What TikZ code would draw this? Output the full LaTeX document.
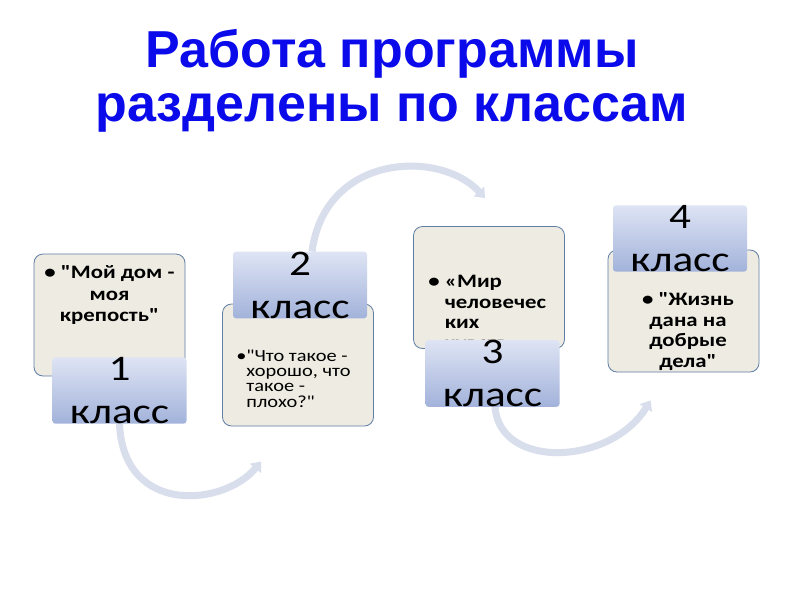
\documentclass[tikz,border=0pt]{standalone}
\usepackage{fontspec}
\setmainfont{Carlito}[FakeStretch=1.2, Ligatures=TeXOff]
\newfontfamily\titlefont{Liberation Sans}
\definecolor{titleblue}{RGB}{10,10,235}
\definecolor{boxfill}{RGB}{238,236,226}
\definecolor{boxline}{RGB}{95,125,165}
\definecolor{tabtop}{RGB}{222,228,244}
\definecolor{tabbottom}{RGB}{162,178,218}
\definecolor{arcgray}{RGB}{216,222,236}
\usetikzlibrary{calc, arrows.meta, backgrounds}

\begin{document}
\begin{tikzpicture}[x=1pt, y=-1pt,
  stage/.style={draw=boxline, line width=0.8pt, fill=boxfill, rounded corners=9pt,
    minimum width=151pt, minimum height=122pt, inner sep=0pt},
  tab/.style={top color=tabtop, bottom color=tabbottom, rounded corners=3pt,
    minimum width=134pt, minimum height=54pt, inner sep=0pt, align=center,
    font=\fontsize{36}{43}\selectfont},
  stext/.style={font=\bfseries\fontsize{19}{21.5}\selectfont, inner sep=0pt},
  bentarrow/.style={-{Triangle[width=14pt,length=9pt]}, line width=7pt, arcgray},
]
\useasboundingbox (0,0) rectangle (800,600);

% Title
\node[font=\titlefont\bfseries\fontsize{52}{54}\selectfont, text=titleblue,
  align=center, inner sep=0pt] (title) at (392,81)
  {Работа программы\\разделены по классам};

% Stages
\node[stage] (s1) at (109.5,315) {};
\node[stage] (s2) at (298,365) {};
\node[stage] (s3) at (489,287.5) {};
\node[stage] (s4) at (683.5,311) {};

\node[stext, anchor=north, align=center] (t1) at ([yshift=-12pt]s1.north)
  {\textbullet\ "Мой дом -\\моя\\крепость"};
\node[stext, anchor=north west, font=\fontsize{17}{15}\selectfont] (t2)
  at ([xshift=14pt, yshift=-46pt]s2.north west)
  {\textbullet\begin{tabular}[t]{@{}l@{}}"Что такое -\\хорошо, что\\такое -\\плохо?"\end{tabular}};
\node[stext, anchor=north west, font=\bfseries\fontsize{19}{20.5}\selectfont] (t3)
  at ([xshift=15pt, yshift=-47pt]s3.north west)
  {\textbullet\ \begin{tabular}[t]{@{}l@{}}«Мир\\человечес\\ких\\чувств»\end{tabular}};
\node[stext, anchor=north, align=center, font=\bfseries\fontsize{19}{20.5}\selectfont] (t4)
  at ([xshift=4.5pt, yshift=-43pt]s4.north)
  {\textbullet\ "Жизнь\\дана на\\добрые\\дела"};

% Class tabs
\node[tab] (c1) at (119.5,390.5) {1\\класс};
\node[tab] (c2) at (300,285) {2\\класс};
\node[tab] (c3) at (492.5,373.5) {3\\класс};
\node[tab] (c4) at (680,238.5) {4\\класс};

% Bent arrows
\begin{pgfonlayer}{background}
\fill[white] (0,0) rectangle (800,600);
\draw[bentarrow] (c1.south) .. controls +(4,92) and +(-37,45) ..
  ([xshift=39pt, yshift=-35pt]s2.south west);
\draw[bentarrow] ([xshift=12pt]c2.north) .. controls +(13,-98) and +(-45,-49) ..
  ([xshift=-4pt, yshift=28pt]s3.north);
\draw[bentarrow] ([xshift=2.5pt]c3.south) .. controls +(5,63) and +(-40,65) ..
  ([xshift=43pt, yshift=-28pt]s4.south west);
\end{pgfonlayer}
\end{tikzpicture}
\end{document}
